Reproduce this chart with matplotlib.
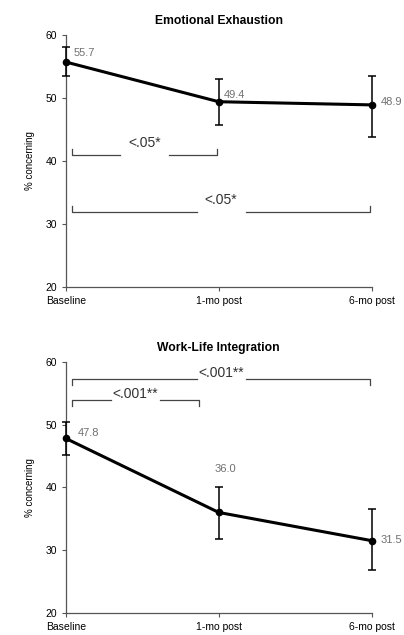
import numpy as np
import matplotlib
matplotlib.use('Agg')
import matplotlib.pyplot as plt

# ==========================================
# DATA
# ==========================================
TIMEPOINTS = ['Baseline', '1-mo post', '6-mo post']

# Emotional Exhaustion
ee_values = [55.7, 49.4, 48.9]
ee_err_low = [2.2, 3.7, 5.1]
ee_err_high = [2.4, 3.6, 4.6]

# Work-Life Integration
wli_values = [47.8, 36.0, 31.5]
wli_err_low = [2.7, 4.2, 4.6]
wli_err_high = [2.6, 4.1, 5.1]

# significance brackets: (start, end, level, label)
ee_brackets = [(0, 1, 41.0, '<.05*'), (0, 2, 31.9, '<.05*')]
wli_brackets = [(0, 0.88, 53.9, '<.001**'), (0, 2, 57.3, '<.001**')]

plt.rcParams['font.family'] = ['Liberation Sans', 'DejaVu Sans']

LABEL_GREY = '#707070'


def draw_bracket(ax, x0, x1, y, label, up=True, gap=0.16):
    """Bracket with a gap in the middle for the p-value text."""
    x0 = x0 + 0.04
    x1 = x1 - 0.01
    mid = (x0 + x1) / 2
    tick = 0.9 if up else -0.9
    kw = dict(color='#444444', lw=0.9, clip_on=False)
    ax.plot([x0, x0, mid - gap], [y + tick, y, y], **kw)
    ax.plot([mid + gap, x1, x1], [y, y, y + tick], **kw)
    ty = y + 1.9 if up else y + 1.0
    ax.text(mid, ty, label, ha='center', va='center', fontsize=10, color='#333333')


def draw_panel(ax, title, values, err_low, err_high, brackets, up, label_pos):
    x = np.arange(len(TIMEPOINTS))
    ax.errorbar(x, values, yerr=[err_low, err_high], color='black', lw=2.2,
                marker='o', markersize=4.5, capsize=3, elinewidth=1.1,
                capthick=1.1, clip_on=False, zorder=3)
    for xi, v, (dx, dy) in zip(x, values, label_pos):
        ax.text(xi + dx, v + dy, f'{v:.1f}', fontsize=8, color=LABEL_GREY,
                ha='left', va='center')
    for x0, x1, y, lab in brackets:
        draw_bracket(ax, x0, x1, y, lab, up=up)

    ax.set_xlim(0, 2)
    ax.set_ylim(20, 60)
    ax.set_yticks([20, 30, 40, 50, 60])
    ax.set_xticks(x)
    ax.set_xticklabels(TIMEPOINTS)
    ax.tick_params(labelsize=7.5, length=3, width=0.8, color='#555555')
    ax.set_ylabel('% concerning', fontsize=7, labelpad=7)
    ax.set_title(title, fontsize=8.7, fontweight='bold', pad=8)
    for side in ['top', 'right']:
        ax.spines[side].set_visible(False)
    for side in ['left', 'bottom']:
        ax.spines[side].set_color('#555555')
        ax.spines[side].set_linewidth(0.9)


fig = plt.figure(figsize=(4.04, 6.35), dpi=100)
ax1 = fig.add_axes([0.163, 0.548, 0.757, 0.397])
ax2 = fig.add_axes([0.163, 0.035, 0.757, 0.395])

draw_panel(ax1, 'Emotional Exhaustion', ee_values, ee_err_low, ee_err_high,
           ee_brackets, True, [(0.05, 1.4), (0.03, 1.1), (0.06, 0.4)])
draw_panel(ax2, 'Work-Life Integration', wli_values, wli_err_low, wli_err_high,
           wli_brackets, False, [(0.08, 0.8), (-0.03, 7.0), (0.06, 0.1)])

fig.savefig('out.png', dpi=100)
